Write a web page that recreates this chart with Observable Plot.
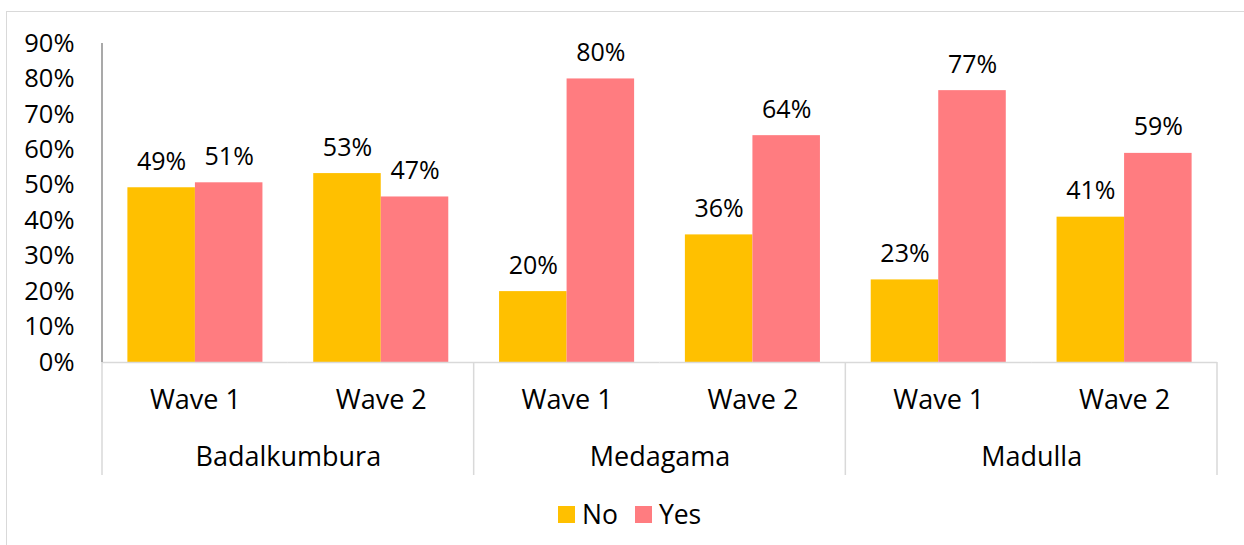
<!DOCTYPE html>
<html>
<head>
<meta charset="utf-8">
<script src="https://cdn.jsdelivr.net/npm/d3@7"></script>
<script src="https://cdn.jsdelivr.net/npm/@observablehq/plot@0.6"></script>
<style>
  html, body { margin: 0; padding: 0; background: #fff; }
  body { width: 1244px; height: 545px; position: relative; overflow: hidden; font-family: "Open Sans", sans-serif; }
  #chart { position: absolute; left: 0; top: 0; }
  #border { position: absolute; left: 6px; top: 11px; width: 1300px; height: 600px; border: 1.5px solid #d9d9d9; pointer-events: none; z-index: 5; }
  #legend { position: absolute; left: 558px; top: 496px; }
  .lg-swatches { display: flex; align-items: center; font-family: "Open Sans", sans-serif !important; font-size: 26.5px !important; color: #000; margin: 0 !important; min-height: 36px !important; }
  .lg-swatch { margin-right: 17px !important; display: inline-flex; align-items: center; }
  .lg-swatch > svg { margin-right: 7px !important; }
</style>
</head>
<body>
<div id="chart"></div>
<div id="legend"></div>
<div id="border"></div>
<script>
const groups = ["Badalkumbura", "Medagama", "Madulla"];
const waves = ["Wave 1", "Wave 2"];
const series = ["No", "Yes"];
const noValues = [0.493, 0.533, 0.20, 0.36, 0.233, 0.41];
const yesValues = [0.507, 0.467, 0.80, 0.64, 0.767, 0.59];
const yTicks = [0, 0.1, 0.2, 0.3, 0.4, 0.5, 0.6, 0.7, 0.8, 0.9];
const seriesColors = ["#FFC000", "#FF7C80"];

const cells = [];
groups.forEach(g => waves.forEach(w => cells.push({group: g, wave: w, key: g + "|" + w})));
const keys = cells.map(c => c.key);
const data = [];
cells.forEach((c, i) => {
  data.push({...c, series: "No", value: noValues[i]});
  data.push({...c, series: "Yes", value: yesValues[i]});
});
const groupStarts = cells.filter(c => c.wave === waves[0]);

const fmt = d3.format(".0%");
const font = "Open Sans";

const plot = Plot.plot({
  width: 1244,
  height: 490,
  marginLeft: 102,
  marginRight: 27,
  marginTop: 43,
  marginBottom: 128,
  style: {fontFamily: font, background: "transparent", color: "#000"},
  fx: {domain: keys, padding: 0, round: false, axis: null},
  x: {domain: series, paddingInner: 0, paddingOuter: 0.376, round: false, axis: null},
  y: {domain: [0, 0.9]},
  color: {domain: series, range: seriesColors},
  marks: [
    Plot.barY(data, {fx: "key", x: "series", y: "value", fill: "series"}),
    Plot.ruleY([0], {stroke: "#d9d9d9", strokeWidth: 1.5}),
    Plot.axisY({ticks: yTicks, tickFormat: fmt, tickSize: 0, tickPadding: 28, fontSize: 25.5, label: null, fill: "#000"}),
    Plot.text(data, {fx: "key", x: "series", y: "value", text: d => fmt(d.value), dy: -26, fontSize: 25, fill: "#000"}),
    Plot.text(cells, {fx: "key", text: "wave", frameAnchor: "bottom", lineAnchor: "middle", dy: 38, fontSize: 27, fill: "#000"}),
    Plot.text(groupStarts, {fx: "key", text: "group", frameAnchor: "bottom-right", textAnchor: "middle", lineAnchor: "middle", dy: 95, fontSize: 27, fill: "#000"})
  ]
});
document.getElementById("chart").append(plot);

// axis line and category separators, positioned via Plot's own scales
const fxS = plot.scale("fx");
const yS = plot.scale("y");
const svg = d3.select(plot.tagName.toLowerCase() === "svg" ? plot : plot.querySelector("svg"));
const y0 = yS.apply(0);
const yTop = yS.apply(yTicks[yTicks.length - 1]);
const xLeft = fxS.apply(keys[0]);
svg.append("line")
  .attr("x1", xLeft).attr("x2", xLeft).attr("y1", yTop).attr("y2", y0)
  .attr("stroke", "#8c8c8c").attr("stroke-width", 1.5);
const sepX = groupStarts.map(c => fxS.apply(c.key)).concat([fxS.apply(keys[keys.length - 1]) + fxS.bandwidth]);
const sepBottom = y0 + 113;
svg.append("g").selectAll("line").data(sepX).join("line")
  .attr("x1", d => d).attr("x2", d => d).attr("y1", y0).attr("y2", sepBottom)
  .attr("stroke", "#d9d9d9").attr("stroke-width", 1.5);

const legend = plot.legend("color", {swatchSize: 17, className: "lg"});
document.getElementById("legend").append(legend);
</script>
</body>
</html>
